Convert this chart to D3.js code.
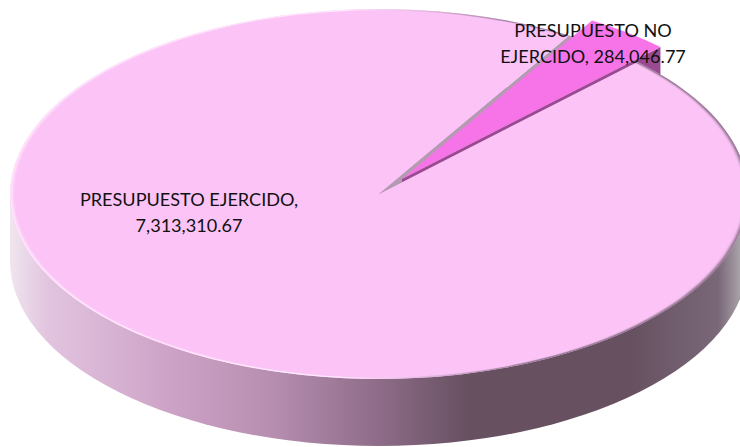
<!DOCTYPE html>
<html>
<head>
<meta charset="utf-8">
<script src="https://cdn.jsdelivr.net/npm/d3@7"></script>
<style>
  html, body { margin: 0; padding: 0; background: #fff; overflow: hidden; }
  svg { display: block; }
  text { font-family: Lato, "Open Sans", sans-serif; font-size: 18.1px; fill: #111; text-anchor: middle; }
</style>
</head>
<body>
<svg id="chart" width="740" height="447"></svg>
<script>
// chart data
const categories = ['PRESUPUESTO NO EJERCIDO', 'PRESUPUESTO EJERCIDO'];
const values = [284046.77, 7313310.67];
const labelLines = [['PRESUPUESTO NO', 'EJERCIDO, 284,046.77'], ['PRESUPUESTO EJERCIDO,', '7,313,310.67']];
const labelPos = [[593, 37], [189, 206]];

// pie geometry
const cx = 379, cy = 194; // centre of the top face
const rx = 369, ry = 185;
const depth = 67;
const explode = [23, -15]; // how far the small slice is pulled out
const firstAngle = 31 * Math.PI / 180;

const svg = d3.select('#chart');
const defs = svg.append('defs');

// side wall shading, left to right
const wallStops = [[0, '#efe6ef'], [0.05, '#e2c4df'], [0.2, '#cfa6c9'], [0.35, '#b88fb1'], [0.5, '#8e6c89'],
  [0.62, '#675161'], [0.84, '#675161'], [0.93, '#746272'], [0.96, '#7a6878'], [0.99, '#aaa4aa'], [1, '#b5afb5']];
const wallGrad = defs.append('linearGradient').attr('id', 'wall')
  .attr('gradientUnits', 'userSpaceOnUse')
  .attr('x1', cx - rx).attr('x2', cx + rx).attr('y1', 0).attr('y2', 0);
wallGrad.selectAll('stop').data(wallStops).join('stop')
  .attr('offset', (d) => d[0]).attr('stop-color', (d) => d[1]);

// rim light on the top face: pale on the left, dark on the right
const rimStops = [[0, '#ffe8fc'], [0.45, '#ffe8fc'], [0.55, '#e8bce4'], [0.7, '#9a7a98'], [1, '#8a6f88']];
const rimGrad = defs.append('linearGradient').attr('id', 'rim')
  .attr('gradientUnits', 'userSpaceOnUse')
  .attr('x1', -rx).attr('x2', rx).attr('y1', 0).attr('y2', 0);
rimGrad.selectAll('stop').data(rimStops).join('stop')
  .attr('offset', (d) => d[0]).attr('stop-color', (d) => d[1]);
defs.append('filter').attr('id', 'soft').append('feGaussianBlur').attr('stdDeviation', 1.5);

const pie = d3.pie().sort(null).startAngle(firstAngle).endAngle(firstAngle + 2 * Math.PI);
const slices = pie(values);
const small = slices[0], big = slices[1];

const arc = d3.arc().innerRadius(0).outerRadius(rx);
const squash = `scale(1 ${ry / rx})`;

// point on the rim of the ellipse for a pie angle, relative to the centre
const rimPoint = (a) => [rx * Math.sin(a), -ry * Math.cos(a)];

// wall: bottom ellipse plus the band up to the top face
const wall = svg.append('g').attr('fill', 'url(#wall)');
wall.append('ellipse').attr('cx', cx).attr('cy', cy + depth).attr('rx', rx).attr('ry', ry);
wall.append('rect').attr('x', cx - rx).attr('y', cy).attr('width', 2 * rx).attr('height', depth);

// cut face of the big slice, seen through the gap
svg.append('path')
  .attr('transform', `translate(${cx} ${cy}) ${squash}`)
  .attr('d', arc(small))
  .attr('fill', '#b39cb2');

// cut face of the small slice, hidden partly by the big top face
const corner = rimPoint(small.endAngle);
const wedgeX = cx + explode[0], wedgeY = cy + explode[1];
svg.append('path')
  .attr('d', d3.line()([
    [wedgeX, wedgeY],
    [wedgeX + corner[0], wedgeY + corner[1]],
    [wedgeX + corner[0], wedgeY + corner[1] + depth],
    [wedgeX, wedgeY + depth]
  ]))
  .attr('fill', '#9a4a90');

// big top face with its soft rim
const topFace = svg.append('g').attr('transform', `translate(${cx} ${cy}) ${squash}`);
defs.append('clipPath').attr('id', 'bigClip').append('path').attr('d', arc(big));
topFace.append('path').attr('d', arc(big)).attr('fill', '#fbc3f6');
topFace.append('g').attr('clip-path', 'url(#bigClip)')
  .append('path')
  .attr('d', d3.arc().innerRadius(rx - 2.5).outerRadius(rx + 2)(big))
  .attr('fill', 'url(#rim)')
  .attr('filter', 'url(#soft)');

// small top face
svg.append('path')
  .attr('transform', `translate(${wedgeX} ${wedgeY}) ${squash}`)
  .attr('d', arc(small))
  .attr('fill', '#f674e8');

// labels
labelLines.forEach((lines, i) => {
  const t = svg.append('text').attr('data-category', categories[i]);
  t.selectAll('tspan').data(lines).join('tspan')
    .attr('x', labelPos[i][0])
    .attr('y', (d, j) => labelPos[i][1] + j * 26)
    .text((d) => d);
});
</script>
</body>
</html>
